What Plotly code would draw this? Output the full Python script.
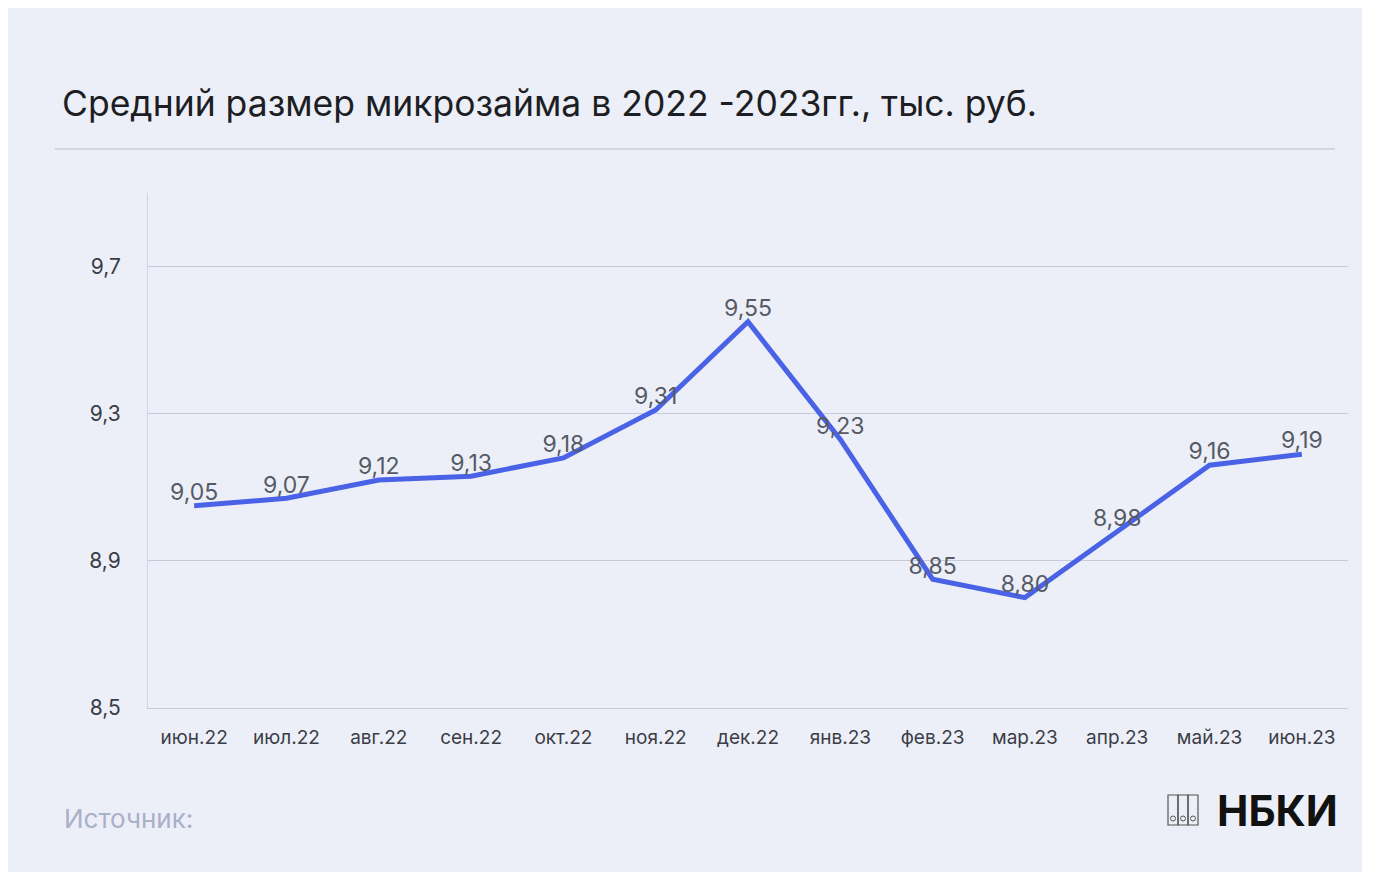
import plotly.graph_objects as go

months = ["июн.22", "июл.22", "авг.22", "сен.22", "окт.22", "ноя.22", "дек.22",
          "янв.23", "фев.23", "мар.23", "апр.23", "май.23", "июн.23"]
avg_loan = [9.05, 9.07, 9.12, 9.13, 9.18, 9.31, 9.55, 9.23, 8.85, 8.80, 8.98, 9.16, 9.19]
labels = [f"{v:.2f}".replace(".", ",") for v in avg_loan]

W, H = 1390, 878
fig = go.Figure()
fig.add_trace(go.Scatter(
    x=months, y=avg_loan, mode="lines+text", text=labels,
    textposition="top center", textfont=dict(size=23, color="#555a66"),
    line=dict(color="#4a63e6", width=5), cliponaxis=False, hoverinfo="skip"))

bg = "#eceff7"
fig.update_layout(
    width=W, height=H, paper_bgcolor="white", plot_bgcolor=bg,
    separators=", ", showlegend=False,
    font=dict(family="Inter, Roboto, sans-serif", color="#3a3d45"),
    margin=dict(l=140, r=50, t=185, b=178),
    xaxis=dict(type="category", range=[-0.5, 12.5], showgrid=False,
               showline=True, linecolor="#c5cbdc", linewidth=1, ticks="",
               ticklabelstandoff=12,
               tickfont=dict(size=19, color="#3a3d45")),
    yaxis=dict(range=[8.5, 9.9], tickvals=[8.5, 8.9, 9.3, 9.7], tickformat=".1f",
               showgrid=True, gridcolor="#c5cbdc", zeroline=False,
               showline=True, linecolor="#d0d5e3", ticks="", ticklabelstandoff=22,
               tickfont=dict(size=21, color="#3a3d45")),
)
# card background
fig.add_shape(type="rect", xref="paper", yref="paper", layer="below",
              x0=-140 / 1200, x1=(1362 - 148) / 1200, y0=-164 / 515, y1=(515 + 190) / 515,
              fillcolor=bg, line=dict(width=0))
# title rule
fig.add_shape(type="line", xref="paper", yref="paper",
              x0=(55 - 148) / 1200, x1=(1335 - 148) / 1200, y0=(708 - 149) / 515, y1=(708 - 149) / 515,
              line=dict(color="#b9bfd0", width=1))
fig.add_annotation(text="Средний размер микрозайма в 2022 -2023гг., тыс. руб.",
                   xref="paper", yref="paper", x=(60 - 148) / 1200, y=(708 - 103) / 515,
                   xanchor="left", yanchor="middle", showarrow=False,
                   font=dict(size=35.5, color="#1c1e24"))
fig.add_annotation(text="Источник:", xref="paper", yref="paper",
                   x=(62 - 148) / 1200, y=(708 - 818) / 515, xanchor="left", yanchor="middle",
                   showarrow=False, font=dict(size=26, color="#a9b0c8"))
fig.add_annotation(text="<b>НБКИ</b>", xref="paper", yref="paper",
                   x=(1340 - 148) / 1200, y=(708 - 810) / 515, xanchor="right", yanchor="middle",
                   showarrow=False, font=dict(size=42, color="#111111"))
# logo icon: three binders
for i in range(3):
    x0 = (1168 + i * 10 - 148) / 1200
    x1 = (1178 + i * 10 - 148) / 1200
    fig.add_shape(type="rect", xref="paper", yref="paper", x0=x0, x1=x1,
                  y0=(708 - 825) / 515, y1=(708 - 795) / 515,
                  line=dict(color="#555555", width=1.2))
    cx = (1173 + i * 10 - 148) / 1200
    fig.add_shape(type="circle", xref="paper", yref="paper",
                  x0=cx - 2.5 / 1200, x1=cx + 2.5 / 1200,
                  y0=(708 - 821) / 515, y1=(708 - 816) / 515,
                  line=dict(color="#555555", width=1))

fig.write_html("out.html")
